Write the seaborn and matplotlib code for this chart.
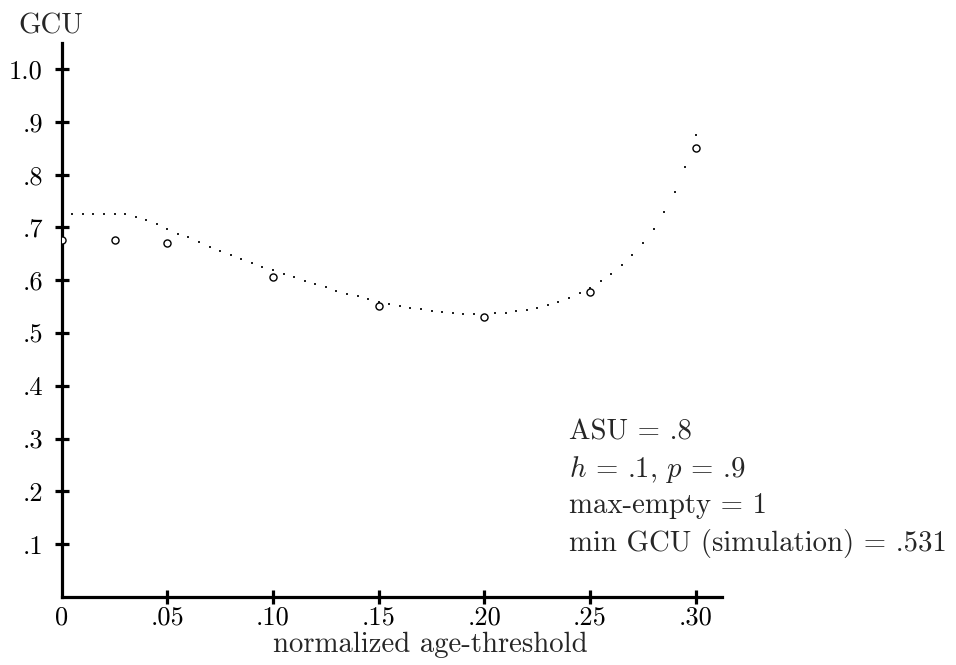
import matplotlib
matplotlib.use("Agg")
import matplotlib.pyplot as plt
import seaborn as sns
import pandas as pd

# ---- data ----
curve_x = [0.005, 0.010, 0.015, 0.020, 0.025, 0.030, 0.035, 0.040, 0.045, 0.050,
           0.055, 0.060, 0.065, 0.070, 0.075, 0.080, 0.085, 0.090, 0.095, 0.100,
           0.105, 0.110, 0.115, 0.120, 0.125, 0.130, 0.135, 0.140, 0.145, 0.150,
           0.155, 0.160, 0.165, 0.170, 0.175, 0.180, 0.185, 0.190, 0.195, 0.200,
           0.205, 0.210, 0.215, 0.220, 0.225, 0.230, 0.235, 0.240, 0.245, 0.250,
           0.255, 0.260, 0.265, 0.270, 0.275, 0.280, 0.285, 0.290, 0.295, 0.300]
curve_y = [0.725, 0.725, 0.725, 0.725, 0.725, 0.725, 0.720, 0.714, 0.706, 0.697,
           0.688, 0.681, 0.672, 0.663, 0.655, 0.648, 0.640, 0.633, 0.626, 0.620,
           0.612, 0.606, 0.599, 0.593, 0.587, 0.580, 0.574, 0.570, 0.565, 0.559,
           0.555, 0.551, 0.548, 0.545, 0.542, 0.540, 0.538, 0.536, 0.536, 0.535,
           0.538, 0.538, 0.542, 0.544, 0.548, 0.553, 0.559, 0.567, 0.576, 0.586,
           0.599, 0.612, 0.629, 0.648, 0.671, 0.697, 0.729, 0.767, 0.815, 0.876]

sim_x = [0.0, 0.025, 0.05, 0.10, 0.15, 0.20, 0.25, 0.30]
sim_y = [0.677, 0.677, 0.671, 0.606, 0.552, 0.530, 0.577, 0.851]

x_ticks = [0.0, 0.05, 0.10, 0.15, 0.20, 0.25, 0.30]
x_tick_labels = ["0", ".05", ".10", ".15", ".20", ".25", ".30"]
y_ticks = [0.1, 0.2, 0.3, 0.4, 0.5, 0.6, 0.7, 0.8, 0.9, 1.0]
y_tick_labels = [".1", ".2", ".3", ".4", ".5", ".6", ".7", ".8", ".9", "1.0"]

x_label = "normalized age-threshold"
y_label = "GCU"
notes = ["ASU = .8", r"$h$ = .1, $p$ = .9", "max-empty = 1",
         "min GCU (simulation) = .531"]

# ---- styling ----
sns.set_style("white")
plt.rcParams["font.family"] = ["cmr10", "DejaVu Serif"]
plt.rcParams["mathtext.fontset"] = "cm"
plt.rcParams["axes.unicode_minus"] = False

TXT = 20.7
TICK = 19

fig = plt.figure(figsize=(9.56, 6.65), dpi=100)
ax = fig.add_axes([0.0645, 0.1023, 0.691, 0.8335])

curve_df = pd.DataFrame({"x": curve_x, "y": curve_y})
sim_df = pd.DataFrame({"x": sim_x, "y": sim_y})

sns.scatterplot(data=curve_df, x="x", y="y", ax=ax, marker="s", s=2.4,
                color="#222222", linewidth=0, zorder=3)
sns.scatterplot(data=sim_df, x="x", y="y", ax=ax, marker="o", s=26,
                facecolor="white", edgecolor="black", linewidth=1.0, zorder=4)

ax.set_xlim(0, 0.3125)
ax.set_ylim(0, 1.05)

for side in ["top", "right"]:
    ax.spines[side].set_visible(False)
for side in ["left", "bottom"]:
    ax.spines[side].set_linewidth(2.3)
    ax.spines[side].set_color("black")

ax.set_xticks(x_ticks)
ax.set_xticklabels(x_tick_labels)
ax.set_yticks(y_ticks)
ax.set_yticklabels(y_tick_labels)
ax.tick_params(axis="both", which="major", bottom=True, left=True,
               direction="inout", length=10, width=2.3,
               labelsize=TICK, colors="black")
ax.tick_params(axis="x", pad=1)
ax.tick_params(axis="y", pad=8.5)
ax.xaxis.get_major_ticks()[0].tick1line.set_visible(False)

ax.set_xlabel(x_label, fontsize=TXT)
ax.set_ylabel("")
ax.xaxis.set_label_coords(0.5587, -0.0992)
ax.xaxis.label.set_va("baseline")

ax.text(-0.0162, 1.017, y_label, transform=ax.transAxes, fontsize=TXT,
        ha="center", va="baseline")

note_y = [0.298, 0.228, 0.1585, 0.0877]
for txt, yy in zip(notes, note_y):
    ax.text(0.2401, yy, txt, fontsize=TXT, ha="left", va="baseline")

fig.savefig("out.png", dpi=100)
